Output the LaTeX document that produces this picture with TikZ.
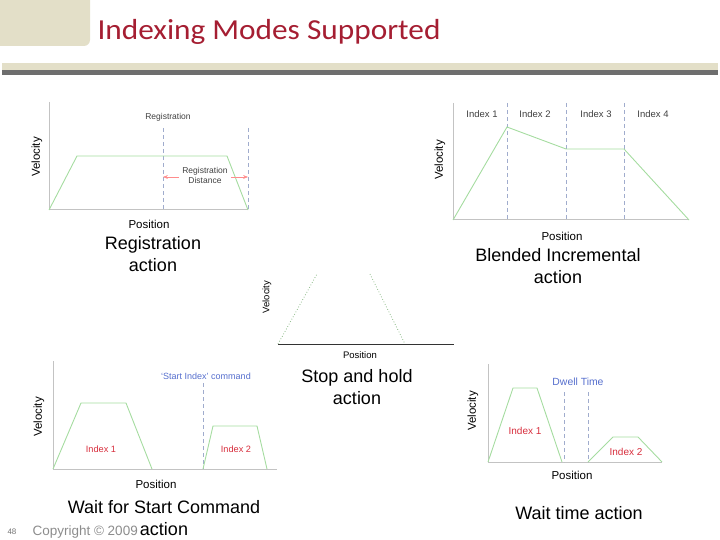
\documentclass[tikz,border=0pt]{standalone}
\usepackage{fontspec}
\setmainfont{Liberation Sans}
\newfontfamily\titlefont{Carlito}
\usetikzlibrary{arrows.meta}
\definecolor{beige}{RGB}{227,223,200}
\definecolor{rulegrey}{RGB}{110,110,110}
\definecolor{titlered}{RGB}{165,30,50}
\definecolor{axisgrey}{RGB}{195,195,195}
\definecolor{profgreen}{RGB}{165,220,160}
\definecolor{guideblue}{RGB}{160,172,205}
\definecolor{lblred}{RGB}{215,45,60}
\definecolor{lblblue}{RGB}{85,110,205}
\tikzset{
  axis/.style={axisgrey,line width=1pt},
  prof/.style={profgreen,line width=0.9pt},
  guide/.style={guideblue,dashed,dash pattern=on 4pt off 3pt,line width=0.8pt},
  axtext/.style={font=\fontsize{11.5}{12}\selectfont},
  smalltext/.style={font=\fontsize{8.5}{10}\selectfont,text=black!75},
  acttext/.style={font=\fontsize{18}{22}\selectfont,align=center},
}
\begin{document}
\begin{tikzpicture}[x=1pt,y=-1pt,>=Stealth]
\useasboundingbox (0,0) rectangle (720,540);
% header
\fill[beige,rounded corners=6pt] (-10,-10) rectangle (90,46);
\fill[beige] (0,-10) rectangle (60,46);
\node[anchor=west,text=titlered,font=\titlefont\fontsize{29}{30}\selectfont] (title) at (94,32) {\scalebox{1.08}[1]{Indexing Modes Supported}};
\fill[beige] (2,63) rectangle (718,70);
\fill[rulegrey] (2,70) rectangle (718,75);

% registration
\draw[axis] (49,102)--(49,210)--(248,210);
\draw[guide] (163,128)--(163,210) (248,128)--(248,210);
\draw[prof] (49,210)--(77,156)--(227,156)--(248,210);
\node[smalltext] (regtop) at (168,117) {Registration};
\node[smalltext,align=center] (regdist) at (205,175.5) {Registration\\Distance};
\draw[->,red!45] (regdist.west |- 0,177)--(163,177);
\draw[->,red!45] (regdist.east |- 0,177)--(248,177);
\node[axtext,rotate=90] (regvel) at (37,157) {Velocity};
\node[axtext] (regpos) at (149,224) {Position};
\node[acttext] (regact) at (153,254) {Registration\\action};

% blended incremental
\draw[axis] (453,103)--(453,220)--(689,220);
\draw[guide] (507,103)--(507,220) (566,103)--(566,220) (624,103)--(624,220);
\draw[prof] (453,220)--(507,127)--(566,149)--(624,149)--(689,220);
\foreach \xx/\nn in {482/1,535/2,596/3,653/4}
  \node[smalltext,font=\fontsize{9.5}{10}\selectfont] (blidx\nn) at (\xx,114) {Index \nn};
\node[axtext,rotate=90] (blvel) at (440,160) {Velocity};
\node[axtext] (blpos) at (562,236) {Position};
\node[acttext] (blact) at (558,266) {Blended Incremental\\action};

% stop and hold
\draw[black!80,line width=0.9pt] (278,344)--(454,344);
\draw[profgreen!85!black,dotted,line width=0.8pt] (278,344)--(317,274) (370,274)--(405,344);
\node[font=\fontsize{9.5}{10}\selectfont,rotate=90] (shvel) at (267,297) {Velocity};
\node[font=\fontsize{9.5}{10}\selectfont] (shpos) at (360,355) {Position};
\node[acttext] (shact) at (357,387) {Stop and hold\\action};

% wait for start command
\draw[axis] (53,361)--(53,469)--(277,469);
\draw[guide] (203,383)--(203,469);
\draw[prof] (53,469)--(81,403)--(126,403)--(152,469);
\draw[prof] (203,469)--(213,426)--(257,426)--(267,469);
\node[font=\fontsize{9}{10}\selectfont,text=lblblue] (startcmd) at (206,376) {`Start Index' command};
\node[font=\fontsize{9.2}{10}\selectfont,text=lblred] (wsidx1) at (101,449) {Index 1};
\node[font=\fontsize{9.2}{10}\selectfont,text=lblred] (wsidx2) at (236,449) {Index 2};
\node[axtext,rotate=90] (wsvel) at (39,417) {Velocity};
\node[axtext] (wspos) at (156,484) {Position};
\node[acttext] (wsact) at (164,518) {Wait for Start Command\\action};

% wait time
\draw[axis] (488,364)--(488,462)--(662,462);
\draw[guide] (564,392)--(564,462) (588,392)--(588,462);
\draw[prof] (488,462)--(513,388)--(537,388)--(562,462);
\draw[prof] (588,462)--(613,437)--(638,437)--(662,462);
\node[font=\fontsize{10.4}{11}\selectfont,text=lblblue] (dwell) at (578,382) {Dwell Time};
\node[font=\fontsize{10}{11}\selectfont,text=lblred] (wtidx1) at (525,431) {Index 1};
\node[font=\fontsize{10}{11}\selectfont,text=lblred] (wtidx2) at (626,452) {Index 2};
\node[axtext,rotate=90] (wtvel) at (473,411) {Velocity};
\node[axtext] (wtpos) at (572,475) {Position};
\node[acttext] (wtact) at (579,513) {Wait time action};

% footer
\node[font=\fontsize{8}{9}\selectfont,text=black!55] (pagenum) at (12,532) {48};
\node[anchor=west,font=\fontsize{13.5}{14}\selectfont,text=black!45] (copy) at (29,532) {Copyright © 2009};
\end{tikzpicture}
\end{document}
